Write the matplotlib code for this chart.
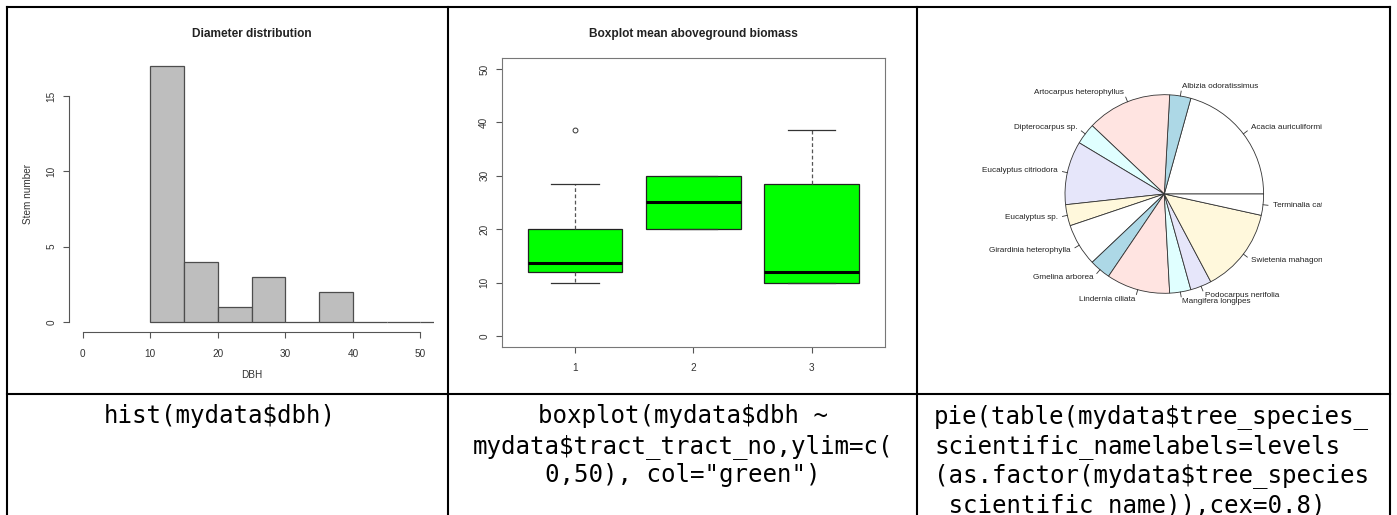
import matplotlib
matplotlib.use("Agg")
import matplotlib.pyplot as plt
import numpy as np

# --- data ---
# histogram of dbh
bin_edges = [10, 15, 20, 25, 30, 35, 40, 45, 50, 55]
bin_counts = [17, 4, 1, 3, 0, 2, 0, 0, 0]
hist_xticks = [0, 10, 20, 30, 40, 50]
hist_yticks = [0, 5, 10, 15]

# boxplot by tract number
tracts = ["1", "2", "3"]
box_whislo = [10, 20, 10]
box_q1 = [12, 20, 10]
box_med = [13.7, 25, 12]
box_q3 = [20, 30, 28.5]
box_whishi = [28.5, 30, 38.5]
box_fliers = [[38.5], [], []]
box_yticks = [0, 10, 20, 30, 40, 50]

# pie of species counts
species = ["Acacia auriculiformis", "Albizia odoratissimus", "Artocarpus heterophyllus",
           "Dipterocarpus sp.", "Eucalyptus citriodora", "Eucalyptus sp.",
           "Girardinia heterophylla", "Gmelina arborea", "Lindernia ciliata",
           "Mangifera longipes", "Podocarpus nerifolia", "Swietenia mahagoni",
           "Terminalia catappa"]
species_counts = [6, 1, 4, 1, 3, 1, 2, 1, 3, 1, 1, 4, 1]
pie_cols = ["white", "lightblue", "mistyrose", "lightcyan", "lavender", "cornsilk"]

# code text under each chart
code_hist = ["hist(mydata$dbh)"]
code_box = ["boxplot(mydata$dbh ~", "mydata$tract_tract_no,ylim=c(", '0,50), col="green")']
code_pie = ["pie(table(mydata$tree_species_", "scientific_namelabels=levels",
            "(as.factor(mydata$tree_species", " scientific name)),cex=0.8)"]

W, H = 1397, 515
plt.rcParams["font.family"] = ["Liberation Sans", "DejaVu Sans"]
fig = plt.figure(figsize=(W / 100, H / 100), dpi=100)

axcol = "#555555"
txtcol = "#333333"


def px_axes(l, t, r, b, **kw):
    return fig.add_axes([l / W, 1 - b / H, (r - l) / W, (b - t) / H], **kw)


# background: table grid + code text
bg = px_axes(0, 0, W, H)
bg.set_xlim(0, W)
bg.set_ylim(H, 0)
bg.axis("off")
lw = 1.5
bg.plot([7, 1390], [7, 7], color="black", lw=lw)
bg.plot([7, 1390], [394, 394], color="black", lw=lw)
for x in [7, 448, 917, 1390]:
    bg.plot([x, x], [7, H + 5], color="black", lw=lw)

mono = dict(family="DejaVu Sans Mono", fontsize=17.4, color="black", va="baseline")
base = [423, 452.7, 482.3, 512]
for i, s in enumerate(code_hist):
    bg.text(220, base[i], s, ha="center", **mono)
for i, s in enumerate(code_box):
    bg.text(683, base[i], s, ha="center", **mono)
for i, s in enumerate(code_pie):
    bg.text(934, base[i], s, ha="left", **mono)

# --- histogram ---
ax1 = px_axes(69, 56, 434, 332)
ax1.bar(bin_edges[:-1], bin_counts, width=np.diff(bin_edges), align="edge",
        color="#bebebe", edgecolor="#4d4d4d", linewidth=0.9)
ax1.set_xlim(-2, 52)
ax1.set_ylim(-0.68, 17.68)
for s in ["top", "right"]:
    ax1.spines[s].set_visible(False)
ax1.spines["left"].set_bounds(0, 15)
ax1.spines["bottom"].set_bounds(0, 50)
ax1.set_xticks(hist_xticks)
ax1.set_yticks(hist_yticks)
ax1.set_title("Diameter distribution", fontsize=8.6, fontweight="bold", color="#222222", pad=13.5)
ax1.set_xlabel("DBH", fontsize=7.2, color=txtcol)
ax1.set_ylabel("Stem number", fontsize=7.2, color=txtcol)
ax1.xaxis.set_label_coords(0.5, -(375 - 332) / (332 - 56))
ax1.xaxis.label.set_va("center")
ax1.yaxis.set_label_coords(-(69 - 28) / (434 - 69), 0.5)
ax1.yaxis.label.set_va("center")

# --- boxplot ---
ax2 = px_axes(501.7, 58.3, 885, 346.7)
stats = []
for i in range(len(tracts)):
    stats.append(dict(whislo=box_whislo[i], q1=box_q1[i], med=box_med[i], q3=box_q3[i],
                      whishi=box_whishi[i], fliers=box_fliers[i], label=tracts[i]))
ax2.bxp(stats, positions=[1, 2, 3], widths=0.8, capwidths=0.4, patch_artist=True,
        boxprops=dict(facecolor="#00ff00", edgecolor="#222222", linewidth=0.9),
        medianprops=dict(color="black", linewidth=2.2),
        whiskerprops=dict(color="#555555", linestyle=(0, (3, 2)), linewidth=0.9),
        capprops=dict(color="#333333", linewidth=0.9),
        flierprops=dict(marker="o", markersize=3.5, markerfacecolor="none",
                        markeredgecolor="#333333", markeredgewidth=0.7))
ax2.set_xlim(0.38, 3.62)
ax2.set_ylim(-2, 52)
ax2.set_yticks(box_yticks)
ax2.set_title("Boxplot mean aboveground biomass", fontsize=8.6, fontweight="bold",
              color="#222222", pad=15)
for s in ax2.spines.values():
    s.set_color("#777777")

for ax in [ax1, ax2]:
    ax.tick_params(length=4, width=0.8, color=axcol, labelsize=7.2, labelcolor=txtcol)
    ax.tick_params(axis="x", pad=8)
    ax.tick_params(axis="y", pad=5)
    for lab in ax.get_yticklabels():
        lab.set_rotation(90)
        lab.set_va("center")
for s in ["left", "bottom"]:
    ax1.spines[s].set_color(axcol)

# --- pie ---
cx, cy, rad = 1164.3, 194, 99.3
pl, pt, pr, pb = 982, 40, 1322, 345
ax3 = px_axes(pl, pt, pr, pb)
colors = [pie_cols[i % len(pie_cols)] for i in range(len(species))]
wedges, _ = ax3.pie(species_counts, startangle=0, counterclock=True, colors=colors,
                    wedgeprops=dict(edgecolor="#333333", linewidth=0.6))
ax3.set_aspect("auto")
ax3.set_xlim((pl - cx) / rad, (pr - cx) / rad)
ax3.set_ylim((cy - pb) / rad, (cy - pt) / rad)
for w, name in zip(wedges, species):
    ang = np.deg2rad((w.theta1 + w.theta2) / 2)
    x, y = np.cos(ang), np.sin(ang)
    ax3.plot([x, 1.05 * x], [y, 1.05 * y], color="#333333", lw=0.6)
    ax3.text(1.1 * x, 1.1 * y, name, ha="left" if x >= 0 else "right", va="center",
             fontsize=5.85, color="#222222", clip_on=True)

fig.savefig("out.png", dpi=100)
